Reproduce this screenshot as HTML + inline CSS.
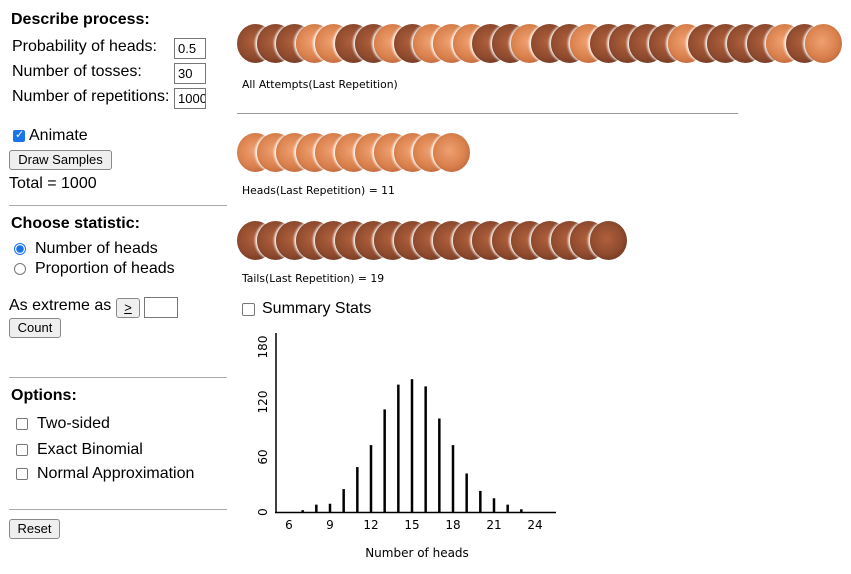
<!DOCTYPE html>
<html><head><meta charset="utf-8"><style>
body{margin:0;width:851px;height:574px;background:#fff;font-family:"Liberation Sans",Arial,sans-serif;color:#000;position:relative;overflow:hidden}
.a{position:absolute;white-space:nowrap}
h3{margin:0;font-size:16px;font-weight:bold;position:absolute}
.lbl{font-size:16px}
.inp{position:absolute;border:1px solid #777;width:32px;font-size:13px;line-height:19px;padding-left:3px;box-sizing:border-box;height:21px;overflow:hidden}
.btn{position:absolute;border:1px solid #888;border-radius:3px;background:#efefef;font-size:13px;line-height:18px;text-align:center;box-sizing:border-box;height:20px}
.hr{position:absolute;height:1px;background:#aaa}
.cb{position:absolute;width:12px;height:12px;border:1px solid #777;border-radius:2px;box-sizing:border-box;background:#fff}
.small{font-family:"DejaVu Sans",sans-serif;font-size:10.8px}
.coin{position:absolute;width:37px;height:39px;border-radius:50%;box-shadow:-2px 0 2px rgba(255,255,255,0.9)}
.H{background:radial-gradient(circle at 45% 45%,#f0a070 0%,#d8804c 55%,#b8603a 85%,#f4e4dc 100%)}
.T{background:radial-gradient(circle at 45% 45%,#b0603c 0%,#8e4a2e 55%,#6a3420 85%,#efe0d8 100%)}
</style></head><body>
<h3 class="a" style="left:11px;top:11px">Describe process:</h3>
<div class="a lbl" style="left:12px;top:38px">Probability of heads:</div>
<div class="inp" style="left:174px;top:38px">0.5</div>
<div class="a lbl" style="left:12px;top:63px">Number of tosses:</div>
<div class="inp" style="left:174px;top:63px">30</div>
<div class="a lbl" style="left:12px;top:88px">Number of repetitions:</div>
<div class="inp" style="left:174px;top:88px">1000</div>
<div class="cb" style="left:13px;top:130px;background:#1a73e8;border-color:#1a73e8"><span style="position:absolute;left:1px;top:-3px;color:#fff;font-size:11px">✓</span></div>
<div class="a lbl" style="left:29px;top:127px">Animate</div>
<div class="btn" style="left:9px;top:150px;width:103px">Draw Samples</div>
<div class="a lbl" style="left:9px;top:175px">Total = 1000</div>
<div class="hr" style="left:9px;top:205px;width:218px"></div>
<h3 class="a" style="left:11px;top:215px">Choose statistic:</h3>
<div class="a" style="left:14px;top:243px;width:12px;height:12px;border-radius:50%;border:1px solid #1a73e8;box-sizing:border-box;background:radial-gradient(circle,#1a73e8 0 3.5px,#fff 4px)"></div>
<div class="a lbl" style="left:35px;top:240px">Number of heads</div>
<div class="a" style="left:14px;top:263px;width:12px;height:12px;border-radius:50%;border:1px solid #777;box-sizing:border-box"></div>
<div class="a lbl" style="left:35px;top:260px">Proportion of heads</div>
<div class="a lbl" style="left:9px;top:297px">As extreme as</div>
<div class="btn" style="left:116px;top:298px;width:24px"><u>&gt;</u></div>
<div class="inp" style="left:144px;top:297px;width:34px"></div>
<div class="btn" style="left:9px;top:318px;width:52px">Count</div>
<div class="hr" style="left:9px;top:377px;width:218px"></div>
<h3 class="a" style="left:11px;top:387px">Options:</h3>
<div class="cb" style="left:16px;top:418px"></div>
<div class="a lbl" style="left:37px;top:415px">Two-sided</div>
<div class="cb" style="left:16px;top:444px"></div>
<div class="a lbl" style="left:37px;top:441px">Exact Binomial</div>
<div class="cb" style="left:16px;top:468px"></div>
<div class="a lbl" style="left:37px;top:465px">Normal Approximation</div>
<div class="hr" style="left:9px;top:509px;width:218px"></div>
<div class="btn" style="left:9px;top:519px;width:51px">Reset</div>

<div id="coins"></div>
<div class="a small" style="left:242px;top:78px">All Attempts(Last Repetition)</div>
<div class="hr" style="left:237px;top:113px;width:501px;background:#999"></div>
<div class="a small" style="left:242px;top:184px">Heads(Last Repetition) = 11</div>
<div class="a small" style="left:242px;top:272px">Tails(Last Repetition) = 19</div>
<div class="cb" style="left:242px;top:303px;width:13px;height:13px"></div>
<div class="a lbl" style="left:262px;top:300px">Summary Stats</div>

<svg id="chart" class="a" style="left:0;top:0" width="851" height="574"></svg>
<script>
const seq = "TTTHHTTHTHHHTTHTTHTTTTHTTTTHTH";
const categories = [7,8,9,10,11,12,13,14,15,16,17,18,19,20,21,22,23,24];
const counts = [2,8,9,25,49,73,112,139,145,137,102,73,42,23,15,8,3,0];
const xTicks = [6,9,12,15,18,21,24];
const yTicks = [0,60,120,180];

const cdiv=document.getElementById('coins');
function coin(x,y,t){const c=document.createElement('div');c.className='coin '+t;c.style.left=x+'px';c.style.top=y+'px';


cdiv.appendChild(c);}
[...seq].forEach((t,i)=>coin(237+i*19.6,24,t));
const nh=[...seq].filter(t=>t==='H').length;
for(let i=0;i<nh;i++)coin(237+i*19.6,133,'H');
for(let i=0;i<seq.length-nh;i++)coin(237+i*19.6,221,'T');

const svg=document.getElementById('chart');const NS='http://www.w3.org/2000/svg';
const X=v=>289+(v-6)*(535-289)/18;
const Y=v=>512-v*(165/180);
function el(tag,attrs,name,text){const e=document.createElementNS(NS,tag);for(const k in attrs)e.setAttribute(k,attrs[k]);


if(text!==undefined)e.textContent=text;svg.appendChild(e);return e;}
el('line',{x1:276,y1:333,x2:276,y2:513,stroke:'#000','stroke-width':1.5},'y-axis');
el('line',{x1:275,y1:512.5,x2:556,y2:512.5,stroke:'#000','stroke-width':1.5},'x-axis');
categories.forEach((c,i)=>{if(counts[i]>0)el('line',{x1:X(c),x2:X(c),y1:512,y2:Y(counts[i]),stroke:'#000','stroke-width':2.5},'bar-'+c);});
xTicks.forEach(t=>el('text',{x:X(t),y:529,'text-anchor':'middle','font-family':'DejaVu Sans,sans-serif','font-size':12},'x-tick-label',t));
yTicks.forEach(t=>el('text',{x:0,y:0,transform:`translate(267,${Y(t)}) rotate(-90)`,'text-anchor':'middle','font-family':'DejaVu Sans,sans-serif','font-size':12},'y-tick-label',t));
el('text',{x:417,y:557,'text-anchor':'middle','font-family':'DejaVu Sans,sans-serif','font-size':12},'x-axis-title','Number of heads');
</script>
</body></html>
